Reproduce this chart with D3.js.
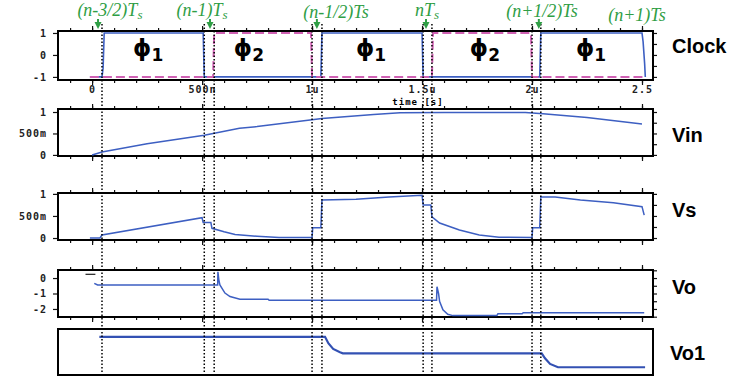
<!DOCTYPE html>
<html>
<head>
<meta charset="utf-8">
<script src="https://cdn.jsdelivr.net/npm/d3@7"></script>
<style>
  body { margin: 0; background: #fff; }
  svg { display: block; }
  .tick text { font-family: "DejaVu Sans Mono", monospace; font-weight: bold; font-size: 10px; letter-spacing: 1px; fill: #222; }
</style>
</head>
<body>
<svg id="chart" width="730" height="376"></svg>
<script>
// times in microseconds
var markerTimes = [0.045, 0.51, 0.555, 1.0, 1.045, 1.505, 1.545, 2.0, 2.04];
var arrowTimes = [0.027, 0.536, 1.022, 1.518, 2.031];

var noteTimes = [0.081, 0.5, 1.109, 1.523, 2.045, 2.477];
var noteMain = ["(n-3/2)T", "(n-1)T", "(n-1/2)Ts", "nT", "(n+1/2)Ts", "(n+1)Ts"];
var noteSub = ["s", "s", "", "s", "", ""];

var phaseTimes = [0.255, 0.713, 1.268, 1.786, 2.268];
var phaseIndex = ["1", "2", "1", "2", "1"];

var phi1Time = [-0.01, 0.045, 0.05, 0.055, 0.505, 0.51, 1.04, 1.045, 1.5, 1.505, 2.035, 2.04, 2.5, 2.505, 2.512, 2.515];
var phi1Value = [-1, -1, -0.6, 1, 1, -1, -1, 1, 1, -1, -1, 1, 1, 0.6, -0.4, -1];
var phi2Time = [-0.01, 0.55, 0.555, 0.995, 1.0, 1.545, 1.55, 1.995, 2.0, 2.515];
var phi2Value = [-1, -1, 1, 1, -1, -1, 1, 1, -1, -1];

var vinTime = [0, 0.045, 0.25, 0.51, 0.67, 0.75, 1.0, 1.045, 1.28, 1.4, 1.6, 1.97, 2.05, 2.25, 2.5];
var vinValue = [0, 0.07, 0.26, 0.46, 0.62, 0.66, 0.82, 0.85, 0.94, 0.98, 0.99, 0.99, 0.96, 0.87, 0.72];

var vsTime = [-0.01, 0.036, 0.045, 0.5, 0.505, 0.54, 0.545, 0.6, 0.65, 0.75, 0.85, 1.0, 1.003, 1.04, 1.045, 1.2, 1.35, 1.5, 1.505, 1.54, 1.545, 1.58, 1.67, 1.76, 1.85, 2.0, 2.003, 2.035, 2.04, 2.105, 2.22, 2.37, 2.5, 2.51];
var vsValue = [0, 0, 0.07, 0.46, 0.35, 0.35, 0.22, 0.14, 0.08, 0.04, 0.01, 0.01, 0.23, 0.23, 0.86, 0.88, 0.93, 0.97, 0.75, 0.75, 0.48, 0.34, 0.18, 0.07, 0.02, 0.01, 0.23, 0.23, 0.93, 0.93, 0.86, 0.8, 0.71, 0.52];

var voStartTime = [-0.03, 0.015];
var voStartValue = [0.24, 0.24];
var voTime = [0.01, 0.025, 0.571, 0.572, 0.576, 0.581, 0.604, 0.627, 0.672, 0.8, 0.805, 1.566, 1.568, 1.575, 1.58, 1.595, 1.617, 1.64, 1.84, 1.845, 1.955, 1.96, 2.51];
var voValue = [-0.34, -0.45, -0.45, 0.4, -0.1, -0.45, -0.97, -1.2, -1.37, -1.37, -1.44, -1.44, -0.56, -1.0, -1.52, -2.06, -2.34, -2.43, -2.43, -2.31, -2.31, -2.24, -2.24];

var vo1Time = [0.033, 1.059, 1.074, 1.096, 1.127, 1.14, 2.044, 2.059, 2.082, 2.118, 2.514];
var vo1Value = [0, 0, -0.41, -0.77, -0.99, -1.05, -1.05, -1.37, -1.73, -1.94, -1.94];

var xTickValues = [0, 0.5, 1, 1.5, 2, 2.5];
var xTickLabels = ["0", "500n", "1u", "1.5u", "2u", "2.5"];

var blue = "#3d5fc2";
var green = "#2f9e45";

var svg = d3.select("#chart");
var left = 58, right = 653;
var x = d3.scaleLinear().domain([-0.155, 2.55]).range([left, right]);

function zip(t, v) {
    return t.map(function (d, i) { return [d, v[i]]; });
}

var panels = [
    {name: "Clock", top: 31, bottom: 80, domain: [-1.14, 1.09], ticks: [1, 0, -1], labels: ["1", "0", "-1"], rightTicks: d3.range(-1, 1.01, 0.5), labelY: 53},
    {name: "Vin", top: 109, bottom: 156, domain: [-0.025, 1.07], ticks: [1, 0.5, 0], labels: ["1", "500m", "0"], rightTicks: d3.range(0, 1.01, 0.25), labelY: 142},
    {name: "Vs", top: 193, bottom: 240, domain: [-0.045, 1.02], ticks: [1, 0.5, 0], labels: ["1", "500m", "0"], rightTicks: d3.range(0, 1.01, 0.25), labelY: 217},
    {name: "Vo", top: 270, bottom: 317, domain: [-2.52, 0.52], ticks: [0, -1, -2], labels: ["0", "-1", "-2"], rightTicks: d3.range(-2.5, 0.51, 0.5), labelY: 294}
];

var minorX = d3.range(-0.1, 2.55, 0.1);

panels.forEach(function (p, k) {
    p.y = d3.scaleLinear().domain(p.domain).range([p.bottom, p.top]);
    var g = svg.append("g");

    g.append("g").attr("transform", "translate(0," + p.bottom + ")")
        .call(d3.axisBottom(x).tickValues(minorX).tickSize(3).tickFormat(""));
    g.append("g").attr("transform", "translate(0," + p.top + ")")
        .call(d3.axisTop(x).tickValues(minorX).tickSize(3).tickFormat(""));

    var bottomMajor = d3.axisBottom(x).tickValues(xTickValues).tickSize(5).tickPadding(1)
        .tickFormat(function (d, i) { return k === 0 ? xTickLabels[i] : ""; });
    g.append("g").attr("transform", "translate(0," + p.bottom + ")").call(bottomMajor);
    g.append("g").attr("transform", "translate(0," + p.top + ")")
        .call(d3.axisTop(x).tickValues(xTickValues).tickSize(5).tickFormat(""));

    g.append("g").attr("transform", "translate(" + left + ",0)")
        .call(d3.axisLeft(p.y).tickValues(p.ticks).tickSize(5).tickPadding(6)
            .tickFormat(function (d, i) { return p.labels[i]; }));
    g.append("g").attr("transform", "translate(" + right + ",0)")
        .call(d3.axisRight(p.y).tickValues(p.rightTicks).tickSize(4).tickFormat(""));

    g.selectAll(".domain").remove();
    g.selectAll(".tick line").attr("stroke", "#111").attr("stroke-width", 1.2);

    g.append("rect")
        .attr("x", left).attr("y", p.top)
        .attr("width", right - left).attr("height", p.bottom - p.top)
        .attr("fill", "none").attr("stroke", "#000").attr("stroke-width", 2);

    svg.append("text")
        .attr("x", 672).attr("y", p.labelY)
        .attr("font-family", "Liberation Sans, Arial, sans-serif")
        .attr("font-weight", "bold").attr("font-size", 20)
        .text(p.name);
});

// Vo1 panel, frame only
var vo1Panel = {top: 329, bottom: 375};
var yVo1 = d3.scaleLinear().domain([-2.5, 0.5]).range([376, 329]);
svg.append("rect")
    .attr("x", left).attr("y", vo1Panel.top)
    .attr("width", right - left).attr("height", vo1Panel.bottom - vo1Panel.top)
    .attr("fill", "none").attr("stroke", "#000").attr("stroke-width", 2);
svg.append("text")
    .attr("x", 670).attr("y", 360)
    .attr("font-family", "Liberation Sans, Arial, sans-serif")
    .attr("font-weight", "bold").attr("font-size", 20)
    .text("Vo1");

svg.append("text")
    .attr("x", 418).attr("y", 105)
    .attr("text-anchor", "middle")
    .attr("font-family", "DejaVu Sans Mono, monospace")
    .attr("font-weight", "bold").attr("font-size", 9)
    .attr("letter-spacing", 1)
    .text("time [s]");

function lineFor(y) {
    return d3.line().x(function (d) { return x(d[0]); }).y(function (d) { return y(d[1]); });
}

var clockY = panels[0].y;
svg.append("path").datum(zip(phi1Time, phi1Value))
    .attr("d", lineFor(clockY)).attr("fill", "none")
    .attr("stroke", blue).attr("stroke-width", 1.6);
svg.append("path").datum(zip(phi2Time, phi2Value))
    .attr("d", lineFor(clockY)).attr("fill", "none")
    .attr("stroke", "#d062b4").attr("stroke-width", 2)
    .attr("stroke-dasharray", "9,4");

svg.append("path").datum(zip(vinTime, vinValue))
    .attr("d", lineFor(panels[1].y)).attr("fill", "none")
    .attr("stroke", blue).attr("stroke-width", 1.5);

svg.append("path").datum(zip(vsTime, vsValue))
    .attr("d", lineFor(panels[2].y)).attr("fill", "none")
    .attr("stroke", blue).attr("stroke-width", 1.5);

svg.append("path").datum(zip(voStartTime, voStartValue))
    .attr("d", lineFor(panels[3].y)).attr("fill", "none")
    .attr("stroke", "#333").attr("stroke-width", 1.3);
svg.append("path").datum(zip(voTime, voValue))
    .attr("d", lineFor(panels[3].y)).attr("fill", "none")
    .attr("stroke", blue).attr("stroke-width", 1.5);

svg.append("path").datum(zip(vo1Time, vo1Value))
    .attr("d", lineFor(yVo1)).attr("fill", "none")
    .attr("stroke", "#3351b3").attr("stroke-width", 2.2);

// phase labels inside the clock panel
var phase = svg.selectAll(".phase").data(phaseTimes).enter().append("text")
    .attr("class", "phase")
    .attr("x", function (d) { return x(d); })
    .attr("y", 56)
    .attr("text-anchor", "middle")
    .attr("font-family", "DejaVu Sans, sans-serif")
    .attr("font-weight", "bold").attr("font-size", 23);
phase.append("tspan").text("\u03D5");
phase.append("tspan").attr("dy", 5).attr("font-size", 17)
    .text(function (d, i) { return phaseIndex[i]; });

// dotted markers
svg.selectAll(".marker").data(markerTimes).enter().append("line")
    .attr("class", "marker")
    .attr("x1", function (d) { return x(d); }).attr("x2", function (d) { return x(d); })
    .attr("y1", 24).attr("y2", 376)
    .attr("stroke", "#000").attr("stroke-width", 1.5)
    .attr("stroke-dasharray", "1.5,2");

// green arrows
var arrows = svg.selectAll(".arrow").data(arrowTimes).enter().append("g").attr("class", "arrow");
arrows.append("line")
    .attr("x1", function (d) { return x(d); }).attr("x2", function (d) { return x(d); })
    .attr("y1", 19).attr("y2", 23)
    .attr("stroke", green).attr("stroke-width", 2);
arrows.append("path")
    .attr("d", function (d) {
        var cx = x(d);
        return "M" + (cx - 3.5) + ",22L" + (cx + 3.5) + ",22L" + cx + ",29Z";
    })
    .attr("fill", green);

var noteY = [16, 16, 18, 16, 17, 21];
var notes = svg.selectAll(".note").data(noteTimes).enter().append("text")
    .attr("class", "note")
    .attr("x", function (d) { return x(d); })
    .attr("y", function (d, i) { return noteY[i]; })
    .attr("text-anchor", "middle")
    .attr("font-family", "Liberation Serif, Times New Roman, serif")
    .attr("font-style", "italic").attr("font-size", 18)
    .attr("fill", green);
notes.append("tspan").text(function (d, i) { return noteMain[i]; });
notes.append("tspan").attr("dy", 3).attr("font-size", 13)
    .text(function (d, i) { return noteSub[i]; });
</script>
</body>
</html>
